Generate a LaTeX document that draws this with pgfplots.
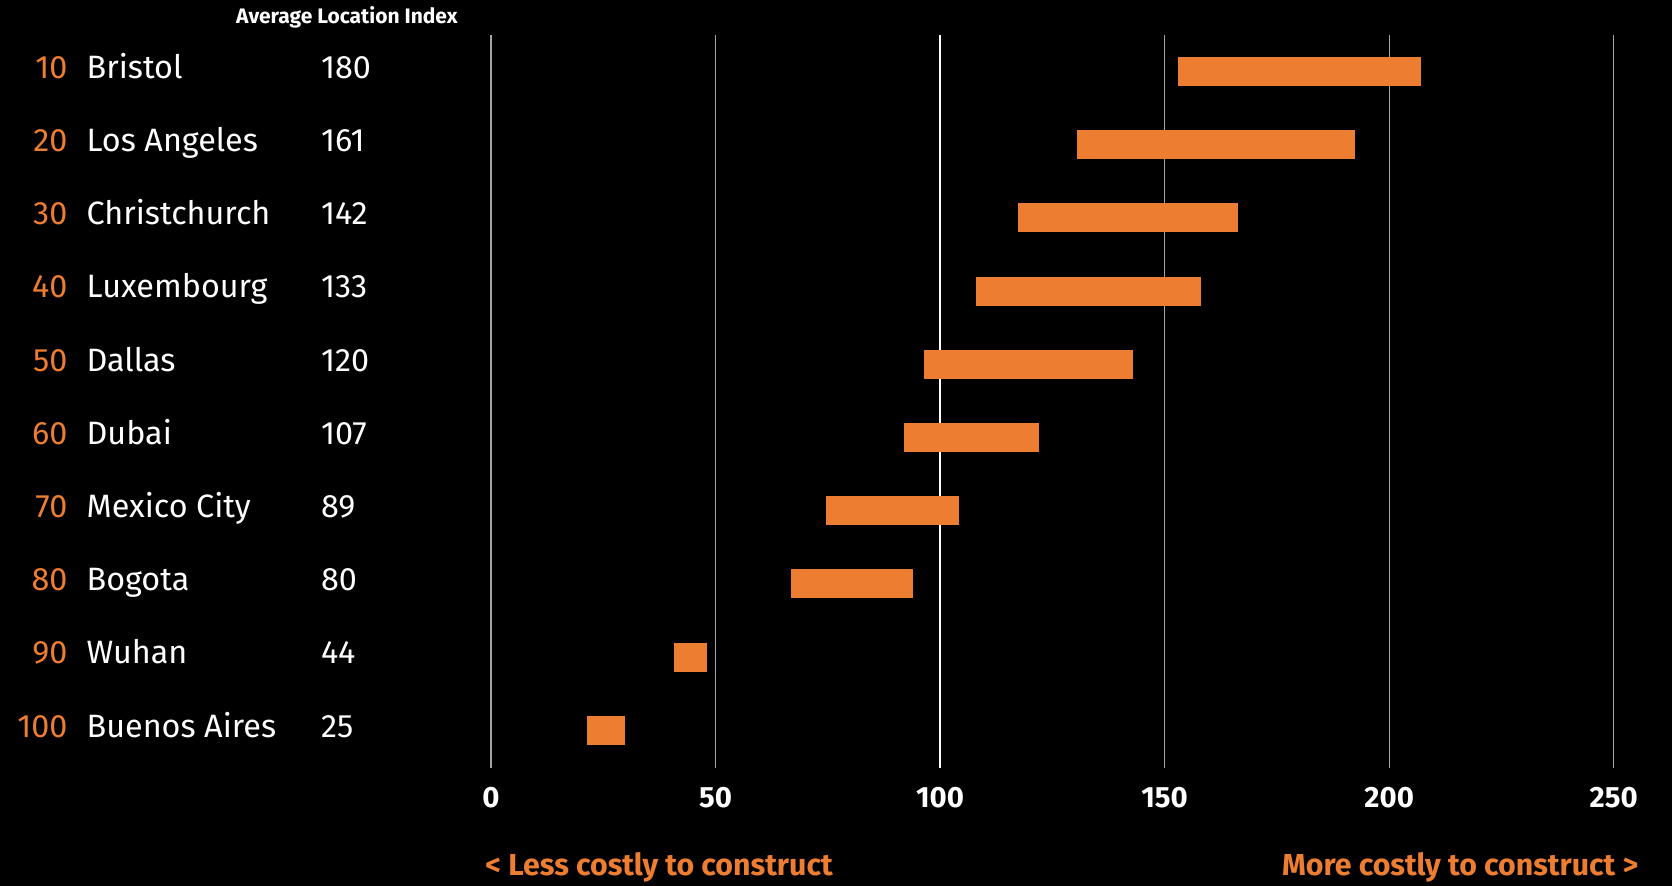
\documentclass[border=0pt]{standalone}
\usepackage{fontspec}
\setmainfont{Fira Sans}
\usepackage{pgfplots}
\pgfplotsset{compat=1.18}
\definecolor{org}{HTML}{ED7D31}
\definecolor{gridc}{HTML}{A6A6A6}

\newcommand\rowfont{\fontsize{19.4}{21}\selectfont}
\begin{document}
\begin{tikzpicture}
\fill[black, use as bounding box] (0,0) rectangle (1003.2pt,531.6pt);
\begin{axis}[
  at={(294.6pt,70.8pt)}, anchor=south west,
  scale only axis, width=673.62pt, height=439.8pt,
  xmin=0, xmax=250, ymin=0.5, ymax=10.515, y dir=reverse,
  enlargelimits=false, clip=false,
  axis line style={draw=none},
  major tick length=0pt,
  xtick={0,50,150,200,250},
  extra x ticks={100},
  extra x tick style={grid style={white, line width=1.3pt}},
  xmajorgrids,
  grid style={gridc, line width=0.7pt},
  /pgf/number format/assume math mode=true,
  xticklabel style={font=\bfseries\fontsize{17.6}{19}\selectfont, text=white, anchor=center, yshift=-18pt},
  ytick={1,...,10},
  yticklabels={Bristol,Los Angeles,Christchurch,Luxembourg,Dallas,Dubai,Mexico City,Bogota,Wuhan,Buenos Aires},
  yticklabel style={font=\rowfont, text=white, anchor=base west, inner sep=0pt, xshift=-242.8pt, yshift=-4.08pt},
]
% each range: low end, high end
\addplot[org, line width=17.4pt, line cap=butt, unbounded coords=jump] table[x=x, y=y]{
x y
152.9 1
207.1 1
nan nan
130.4 2
192.5 2
nan nan
117.4 3
166.4 3
nan nan
108.0 4
158.1 4
nan nan
96.5 5
142.9 5
nan nan
91.9 6
122.0 6
nan nan
74.7 7
104.3 7
nan nan
66.9 8
93.9 8
nan nan
40.8 9
48.1 9
nan nan
21.4 10
29.8 10
};

\node[font=\bfseries\fontsize{12.6}{14}\selectfont, text=white, anchor=base, inner sep=0pt] at (axis cs:-32.1,0.347) {Average Location Index};

\node[font=\rowfont, inner sep=0pt, text=org, anchor=base east] at (axis cs:-94.26,1.093) {10};
\node[font=\rowfont, inner sep=0pt, text=org, anchor=base east] at (axis cs:-94.26,2.093) {20};
\node[font=\rowfont, inner sep=0pt, text=org, anchor=base east] at (axis cs:-94.26,3.093) {30};
\node[font=\rowfont, inner sep=0pt, text=org, anchor=base east] at (axis cs:-94.26,4.093) {40};
\node[font=\rowfont, inner sep=0pt, text=org, anchor=base east] at (axis cs:-94.26,5.093) {50};
\node[font=\rowfont, inner sep=0pt, text=org, anchor=base east] at (axis cs:-94.26,6.093) {60};
\node[font=\rowfont, inner sep=0pt, text=org, anchor=base east] at (axis cs:-94.26,7.093) {70};
\node[font=\rowfont, inner sep=0pt, text=org, anchor=base east] at (axis cs:-94.26,8.093) {80};
\node[font=\rowfont, inner sep=0pt, text=org, anchor=base east] at (axis cs:-94.26,9.093) {90};
\node[font=\rowfont, inner sep=0pt, text=org, anchor=base east] at (axis cs:-94.26,10.093) {100};
\node[font=\rowfont, inner sep=0pt, text=white, anchor=base west] at (axis cs:-37.92,1.093) {180};
\node[font=\rowfont, inner sep=0pt, text=white, anchor=base west] at (axis cs:-37.92,2.093) {161};
\node[font=\rowfont, inner sep=0pt, text=white, anchor=base west] at (axis cs:-37.92,3.093) {142};
\node[font=\rowfont, inner sep=0pt, text=white, anchor=base west] at (axis cs:-37.92,4.093) {133};
\node[font=\rowfont, inner sep=0pt, text=white, anchor=base west] at (axis cs:-37.92,5.093) {120};
\node[font=\rowfont, inner sep=0pt, text=white, anchor=base west] at (axis cs:-37.92,6.093) {107};
\node[font=\rowfont, inner sep=0pt, text=white, anchor=base west] at (axis cs:-37.92,7.093) {89};
\node[font=\rowfont, inner sep=0pt, text=white, anchor=base west] at (axis cs:-37.92,8.093) {80};
\node[font=\rowfont, inner sep=0pt, text=white, anchor=base west] at (axis cs:-37.92,9.093) {44};
\node[font=\rowfont, inner sep=0pt, text=white, anchor=base west] at (axis cs:-37.92,10.093) {25};
\end{axis}
\node[font=\bfseries\fontsize{18.2}{20}\selectfont, text=org, anchor=base west, inner sep=0pt] at (291pt,6.3pt) {< Less costly to construct};
\node[font=\bfseries\fontsize{18.2}{20}\selectfont, text=org, anchor=base east, inner sep=0pt] at (983.2pt,6.3pt) {More costly to construct >};
\end{tikzpicture}
\end{document}
